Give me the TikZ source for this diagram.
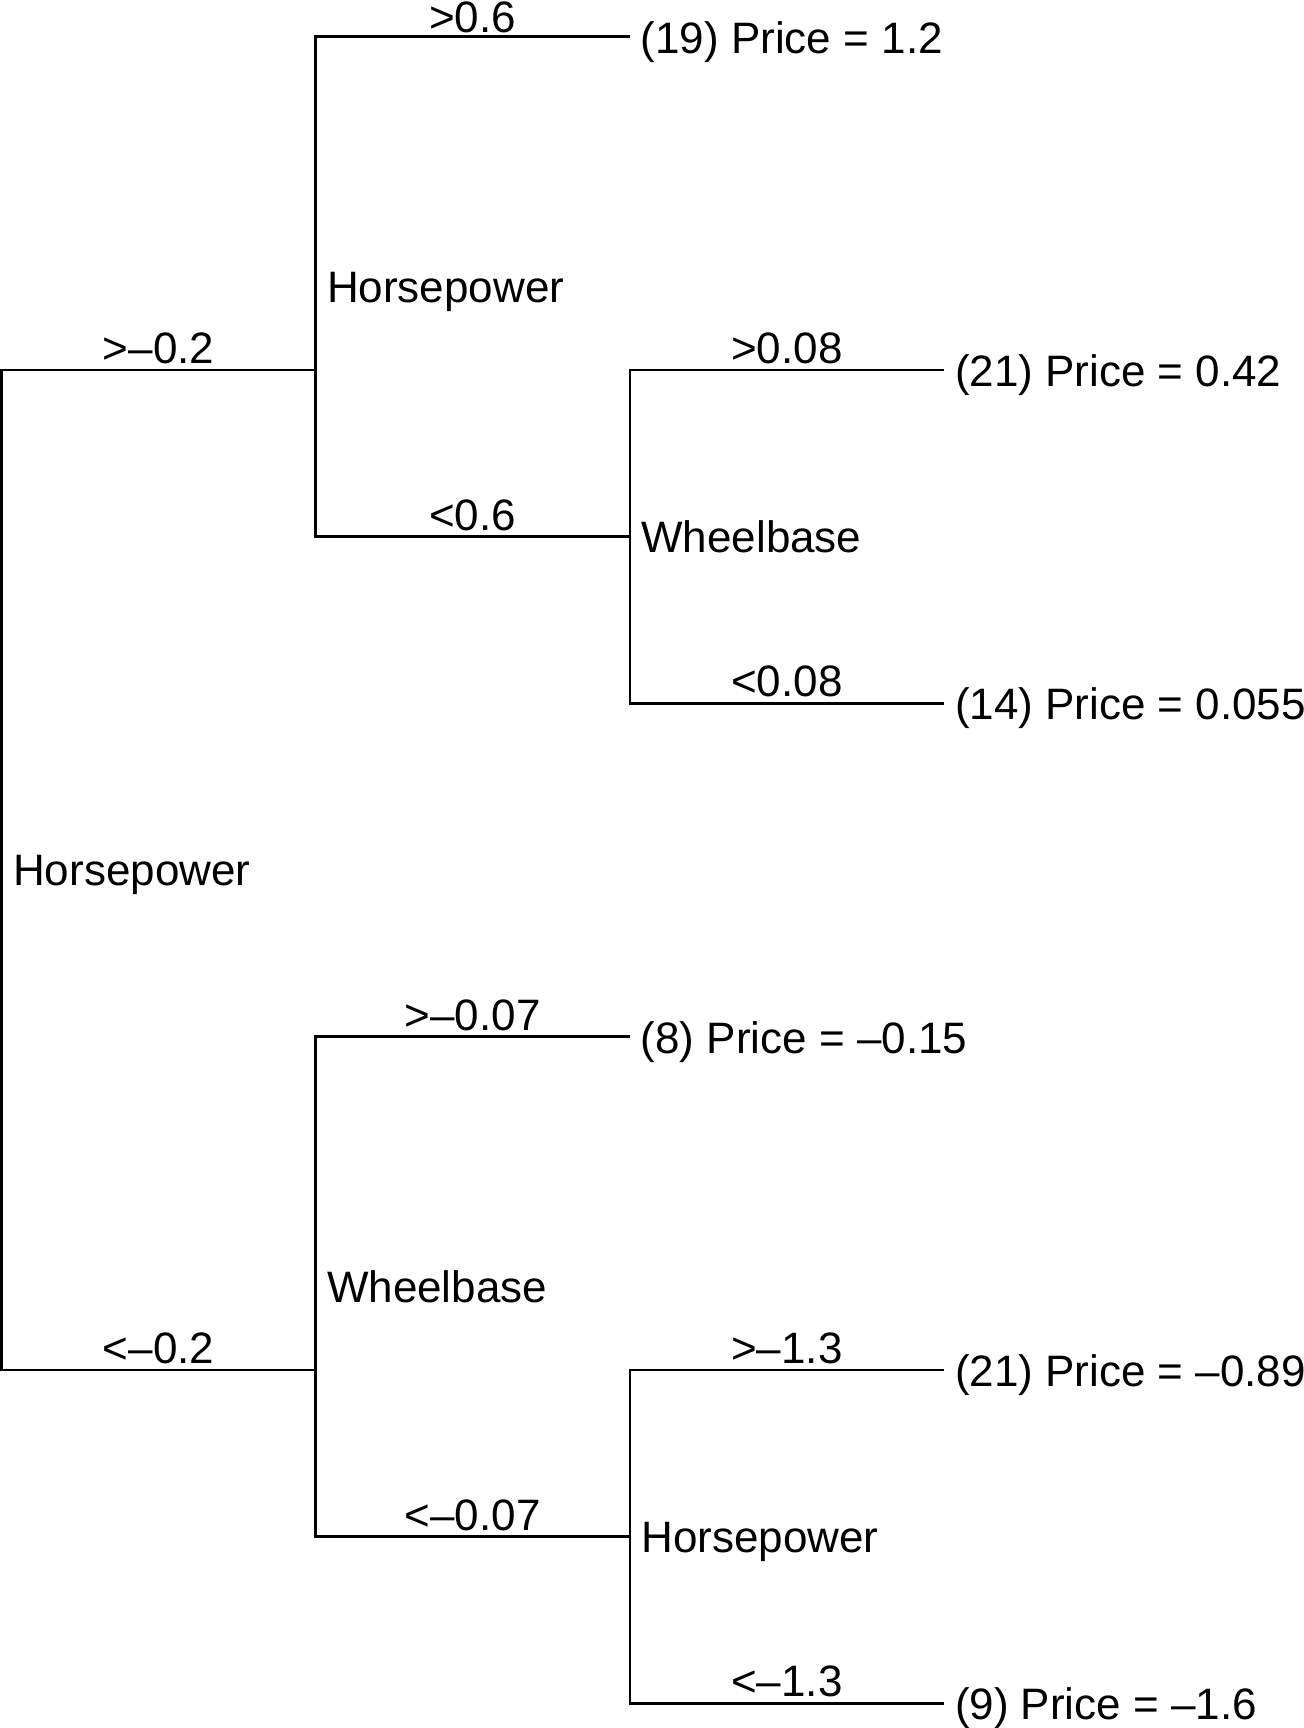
\documentclass[tikz,border=0pt]{standalone}
\usepackage{fontspec}
\setmainfont{Liberation Sans}
\begin{document}
\begin{tikzpicture}[x=0.5pt,y=-0.5pt,
  branch/.style={draw=black,line width=1.25pt,line join=miter},
  txt/.style={inner sep=0pt,outer sep=0pt,font=\fontsize{22pt}{26pt}\selectfont},
  splitlab/.style={txt,anchor=base west},
  leaflab/.style={txt,anchor=base west},
  edgelab/.style={txt,anchor=base}]
\useasboundingbox (0,0) rectangle (1304,1728);
% tree node positions
\coordinate (r)  at (1.7,870);
\coordinate (hu) at (315.5,370.02);
\coordinate (wl) at (315.5,1369.98);
\coordinate (wu) at (629.8,536.68);
\coordinate (hl) at (629.8,1536.64);
\coordinate (l1) at (629.8,36.7);
\coordinate (l2) at (944,370.02);
\coordinate (l3) at (944,703.34);
\coordinate (l4) at (629.8,1036.66);
\coordinate (l5) at (944,1369.98);
\coordinate (l6) at (944,1703.3);
% branches
\draw[branch] (r) |- (hu);
\draw[branch] (r) |- (wl);
\draw[branch] (hu) |- (l1);
\draw[branch] (hu) |- (wu);
\draw[branch] (wu) |- (l2);
\draw[branch] (wu) |- (l3);
\draw[branch] (wl) |- (l4);
\draw[branch] (wl) |- (hl);
\draw[branch] (hl) |- (l5);
\draw[branch] (hl) |- (l6);
% split labels
\node[splitlab] (tr)  at (13.2,885.75) {Horsepower};
\node[splitlab] (thu) at (327,302.44) {Horsepower};
\node[splitlab] (twu) at (641.3,552.43) {Wheelbase};
\node[splitlab] (twl) at (327,1302.4) {Wheelbase};
\node[splitlab] (thl) at (641.3,1552.39) {Horsepower};
% leaf labels
\node[leaflab] (t1) at (640.8,53.3) {(19) Price = 1.2};
\node[leaflab] (t2) at (955,386.62) {(21) Price = 0.42};
\node[leaflab] (t3) at (955,719.94) {(14) Price = 0.055};
\node[leaflab] (t4) at (640.8,1053.26) {(8) Price = –0.15};
\node[leaflab] (t5) at (955,1386.58) {(21) Price = –0.89};
\node[leaflab] (t6) at (955,1719.9) {(9) Price = –1.6};
% edge labels
\node[edgelab] (e1) at (158.6,363.3) {>–0.2};
\node[edgelab] (e2) at (158.6,1363.3) {<–0.2};
\node[edgelab] (e3) at (472.6,32.5) {>0.6};
\node[edgelab] (e4) at (472.6,530) {<0.6};
\node[edgelab] (e5) at (786.9,363.3) {>0.08};
\node[edgelab] (e6) at (786.9,696.6) {<0.08};
\node[edgelab] (e7) at (472.6,1030) {>–0.07};
\node[edgelab] (e8) at (472.6,1530) {<–0.07};
\node[edgelab] (e9) at (786.9,1363.3) {>–1.3};
\node[edgelab] (e10) at (786.9,1696.6) {<–1.3};
\end{tikzpicture}
\end{document}
